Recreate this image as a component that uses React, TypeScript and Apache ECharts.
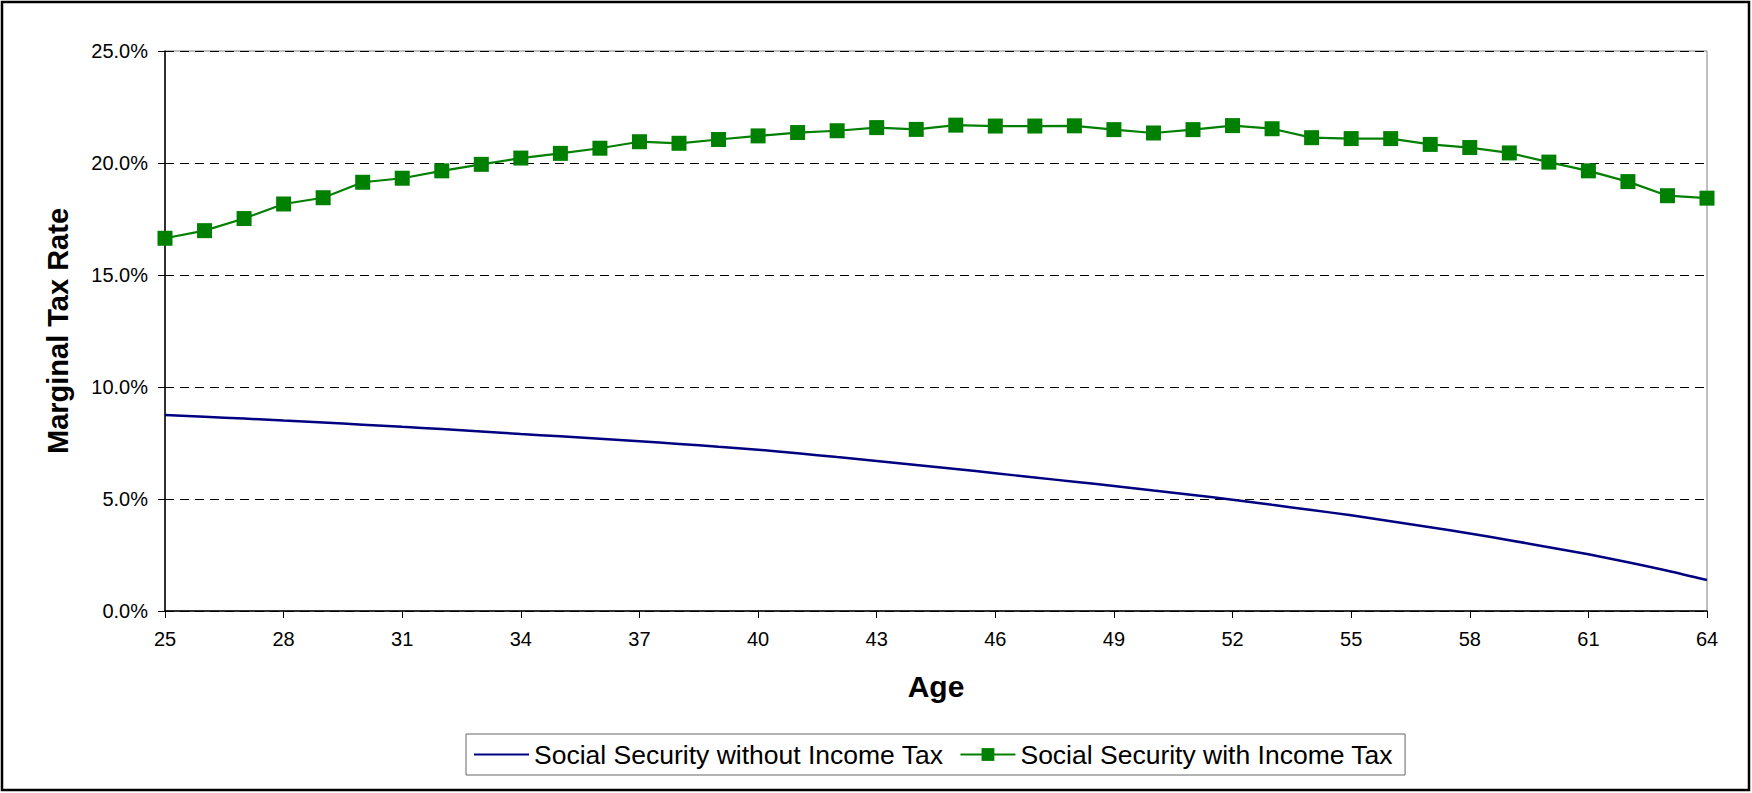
import React, { useEffect, useRef } from "react";
import * as echarts from "echarts";

const ages: string[] = [];
for (let a = 25; a <= 64; a++) ages.push(String(a));

// Social Security without Income Tax (%)
const withoutIncomeTax = [
  8.75, 8.67, 8.59, 8.5, 8.41, 8.32, 8.22, 8.12, 8.01, 7.9,
  7.8, 7.69, 7.58, 7.46, 7.33, 7.2, 7.04, 6.87, 6.7, 6.52,
  6.34, 6.15, 5.96, 5.77, 5.58, 5.38, 5.18, 4.97, 4.74, 4.51,
  4.27, 4.01, 3.74, 3.46, 3.16, 2.85, 2.53, 2.18, 1.8, 1.38,
];

// Social Security with Income Tax (%)
const withIncomeTax = [
  16.64, 16.98, 17.52, 18.17, 18.45, 19.14, 19.32, 19.65, 19.94, 20.22,
  20.43, 20.66, 20.95, 20.88, 21.05, 21.21, 21.36, 21.44, 21.58, 21.5,
  21.69, 21.65, 21.65, 21.66, 21.49, 21.34, 21.49, 21.67, 21.53, 21.13,
  21.09, 21.09, 20.83, 20.69, 20.45, 20.04, 19.65, 19.17, 18.54, 18.43,
];

const yTicks = { min: 0, max: 25, interval: 5 };

const FONT = "Arial, 'Liberation Sans', Helvetica, sans-serif";

export default function App() {
  const ref = useRef<HTMLDivElement>(null);
  useEffect(() => {
    if (!ref.current) return;
    const chart = echarts.init(ref.current, undefined, { renderer: "svg" });
    chart.setOption({
      animation: false,
      backgroundColor: "#ffffff",
      textStyle: { fontFamily: FONT },
      grid: {
        left: 165,
        right: 45,
        top: 51,
        bottom: 182,
        show: true,
        borderColor: "#808080",
        borderWidth: 1,
        backgroundColor: "transparent",
      },
      xAxis: {
        type: "category",
        data: ages,
        boundaryGap: false,
        axisLine: { lineStyle: { color: "#000", width: 1.5 } },
        axisTick: { show: true, interval: 2, length: 7, lineStyle: { color: "#000" } },
        axisLabel: { interval: 2, color: "#000", fontSize: 20, margin: 18, fontFamily: FONT },
        splitLine: { show: false },
      },
      yAxis: {
        type: "value",
        min: yTicks.min,
        max: yTicks.max,
        interval: yTicks.interval,
        axisLine: { show: true, lineStyle: { color: "#000", width: 1.5 } },
        axisTick: { show: true, length: 7, lineStyle: { color: "#000" } },
        axisLabel: {
          color: "#000",
          fontSize: 20,
          margin: 17,
          fontFamily: FONT,
          formatter: (v: number) => v.toFixed(1) + "%",
        },
        splitLine: { show: true, lineStyle: { color: "#000", type: [9, 6], width: 1 } },
      },
      legend: {
        left: 466,
        top: 734,
        orient: "horizontal",
        itemWidth: 55,
        itemHeight: 16,
        itemGap: 16,
        padding: [7, 12, 7, 7],
        borderColor: "#666",
        borderWidth: 1,
        backgroundColor: "#fff",
        textStyle: { color: "#000", fontSize: 26.5, fontFamily: FONT, lineHeight: 26 },
        data: [
          {
            name: "Social Security without Income Tax",
            itemStyle: { color: "rgba(0,0,0,0)", opacity: 0, borderWidth: 0 },
          },
          { name: "Social Security with Income Tax" },
        ],
      },
      series: [
        {
          name: "Social Security without Income Tax",
          type: "line",
          data: withoutIncomeTax,
          smooth: 0.3,
          symbol: "none",
          showSymbol: false,
          lineStyle: { color: "#000080", width: 2.5 },
          itemStyle: { color: "#000080" },
        },
        {
          name: "Social Security with Income Tax",
          type: "line",
          data: withIncomeTax,
          symbol: "rect",
          symbolSize: 15,
          lineStyle: { color: "#008000", width: 2.2 },
          itemStyle: { color: "#008000" },
        },
      ],
      graphic: [
        {
          type: "rect",
          shape: { x: 2, y: 2, width: 1747, height: 788 },
          style: { fill: "none", stroke: "#000", lineWidth: 2.5 },
          silent: true,
        },
        {
          type: "text",
          x: 58,
          y: 331,
          rotation: Math.PI / 2,
          style: {
            text: "Marginal Tax Rate",
            fill: "#000",
            font: `bold 29px ${FONT}`,
            align: "center",
            verticalAlign: "middle",
          },
        },
        {
          type: "text",
          x: 936,
          y: 686,
          style: {
            text: "Age",
            fill: "#000",
            font: `bold 30px ${FONT}`,
            align: "center",
            verticalAlign: "middle",
          },
        },
      ],
    });
    return () => chart.dispose();
  }, []);
  return (
    <div
      ref={ref}
      style={{ position: "absolute", left: 0, top: 0, width: 1752, height: 793 }}
    />
  );
}
